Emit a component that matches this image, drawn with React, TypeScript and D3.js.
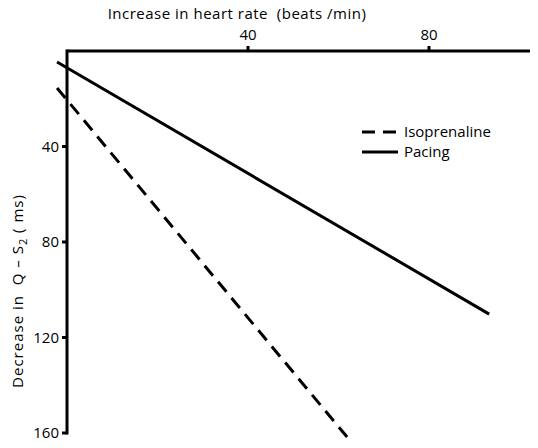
import React, { useEffect, useRef } from 'react';
import * as d3 from 'd3';

// endpoints of the two regression lines
const seriesNames = ['Isoprenaline', 'Pacing'];
const heartRateEnds = [
  [-2.2, 61.9],
  [-2.2, 93.3],
];
const qs2Ends = [
  [15.5, 161.7],
  [4.6, 110.2],
];
const xTicks = [40, 80];
const yTicks = [40, 80, 120, 160];

export default function App() {
  const svgRef = useRef<SVGSVGElement>(null);

  useEffect(() => {
    const width = 538;
    const height = 448;
    const font = '"Open Sans", "DejaVu Sans", sans-serif';

    const svg = d3.select(svgRef.current).attr('width', width).attr('height', height);
    svg.selectAll('*').remove();

    const xScale = d3.scaleLinear().domain([0, 80]).range([67, 429]);
    const yScale = d3.scaleLinear().domain([0, 160]).range([51, 433]);

    // lines
    const line = d3
      .line<[number, number]>()
      .x((d) => xScale(d[0]))
      .y((d) => yScale(d[1]));

    seriesNames.forEach((name, i) => {
      const pts: [number, number][] = heartRateEnds[i].map((x, j) => [x, qs2Ends[i][j]]);
      svg
        .append('path')
        .attr('d', line(pts))
        .attr('fill', 'none')
        .attr('stroke', '#000')
        .attr('stroke-width', 3)
        .attr('stroke-dasharray', i === 0 ? '13 8' : null);
    });

    // axes
    const axisColor = '#000';
    svg
      .append('line')
      .attr('x1', xScale(0))
      .attr('x2', 530)
      .attr('y1', yScale(0))
      .attr('y2', yScale(0))
      .attr('stroke', axisColor)
      .attr('stroke-width', 3);
    svg
      .append('line')
      .attr('x1', xScale(0))
      .attr('x2', xScale(0))
      .attr('y1', yScale(0) - 1.5)
      .attr('y2', yScale(160) + 1.5)
      .attr('stroke', axisColor)
      .attr('stroke-width', 3);

    xTicks.forEach((t) => {
      svg
        .append('line')
        .attr('x1', xScale(t))
        .attr('x2', xScale(t))
        .attr('y1', yScale(0))
        .attr('y2', yScale(0) - 5)
        .attr('stroke', axisColor)
        .attr('stroke-width', 3);
      svg
        .append('text')
        .attr('x', xScale(t))
        .attr('y', 40)
        .attr('text-anchor', 'middle')
        .style('font-family', font)
        .style('font-size', '15px')
        .text(t);
    });

    yTicks.forEach((t) => {
      svg
        .append('line')
        .attr('x1', xScale(0))
        .attr('x2', xScale(0) - 5)
        .attr('y1', yScale(t))
        .attr('y2', yScale(t))
        .attr('stroke', axisColor)
        .attr('stroke-width', 3);
      svg
        .append('text')
        .attr('x', 59)
        .attr('y', yScale(t) + 5)
        .attr('text-anchor', 'end')
        .style('font-family', font)
        .style('font-size', '15px')
        .text(t);
    });

    // axis titles
    svg
      .append('text')
      .attr('x', 237)
      .attr('y', 19)
      .attr('text-anchor', 'middle')
      .style('font-family', font)
      .style('font-size', '15px')
      .style('letter-spacing', '0.5px')
      .style('white-space', 'pre')
      .text('Increase in heart rate  (beats /min)');

    const yTitle = svg
      .append('text')
      .attr('transform', 'translate(23, 291) rotate(-90)')
      .attr('text-anchor', 'middle')
      .style('font-family', font)
      .style('font-size', '15px')
      .style('letter-spacing', '1px')
      .style('white-space', 'pre');
    yTitle.append('tspan').text('Decrease in  Q \u2013 S');
    yTitle.append('tspan').attr('font-size', '11px').attr('dy', 4).text('2');
    yTitle.append('tspan').attr('dy', -4).text(' ( ms)');

    // legend
    const legendY = [132, 152];
    seriesNames.forEach((name, i) => {
      svg
        .append('line')
        .attr('x1', 362)
        .attr('x2', 398)
        .attr('y1', legendY[i])
        .attr('y2', legendY[i])
        .attr('stroke', '#000')
        .attr('stroke-width', 3)
        .attr('stroke-dasharray', i === 0 ? '13 8' : null);
      svg
        .append('text')
        .attr('x', 404)
        .attr('y', legendY[i] + 5)
        .style('font-family', font)
        .style('font-size', '15px')
        .text(name);
    });
  }, []);

  return (
    <svg
      ref={svgRef}
      style={{ position: 'absolute', left: 0, top: 0, display: 'block', background: '#fff' }}
    />
  );
}
